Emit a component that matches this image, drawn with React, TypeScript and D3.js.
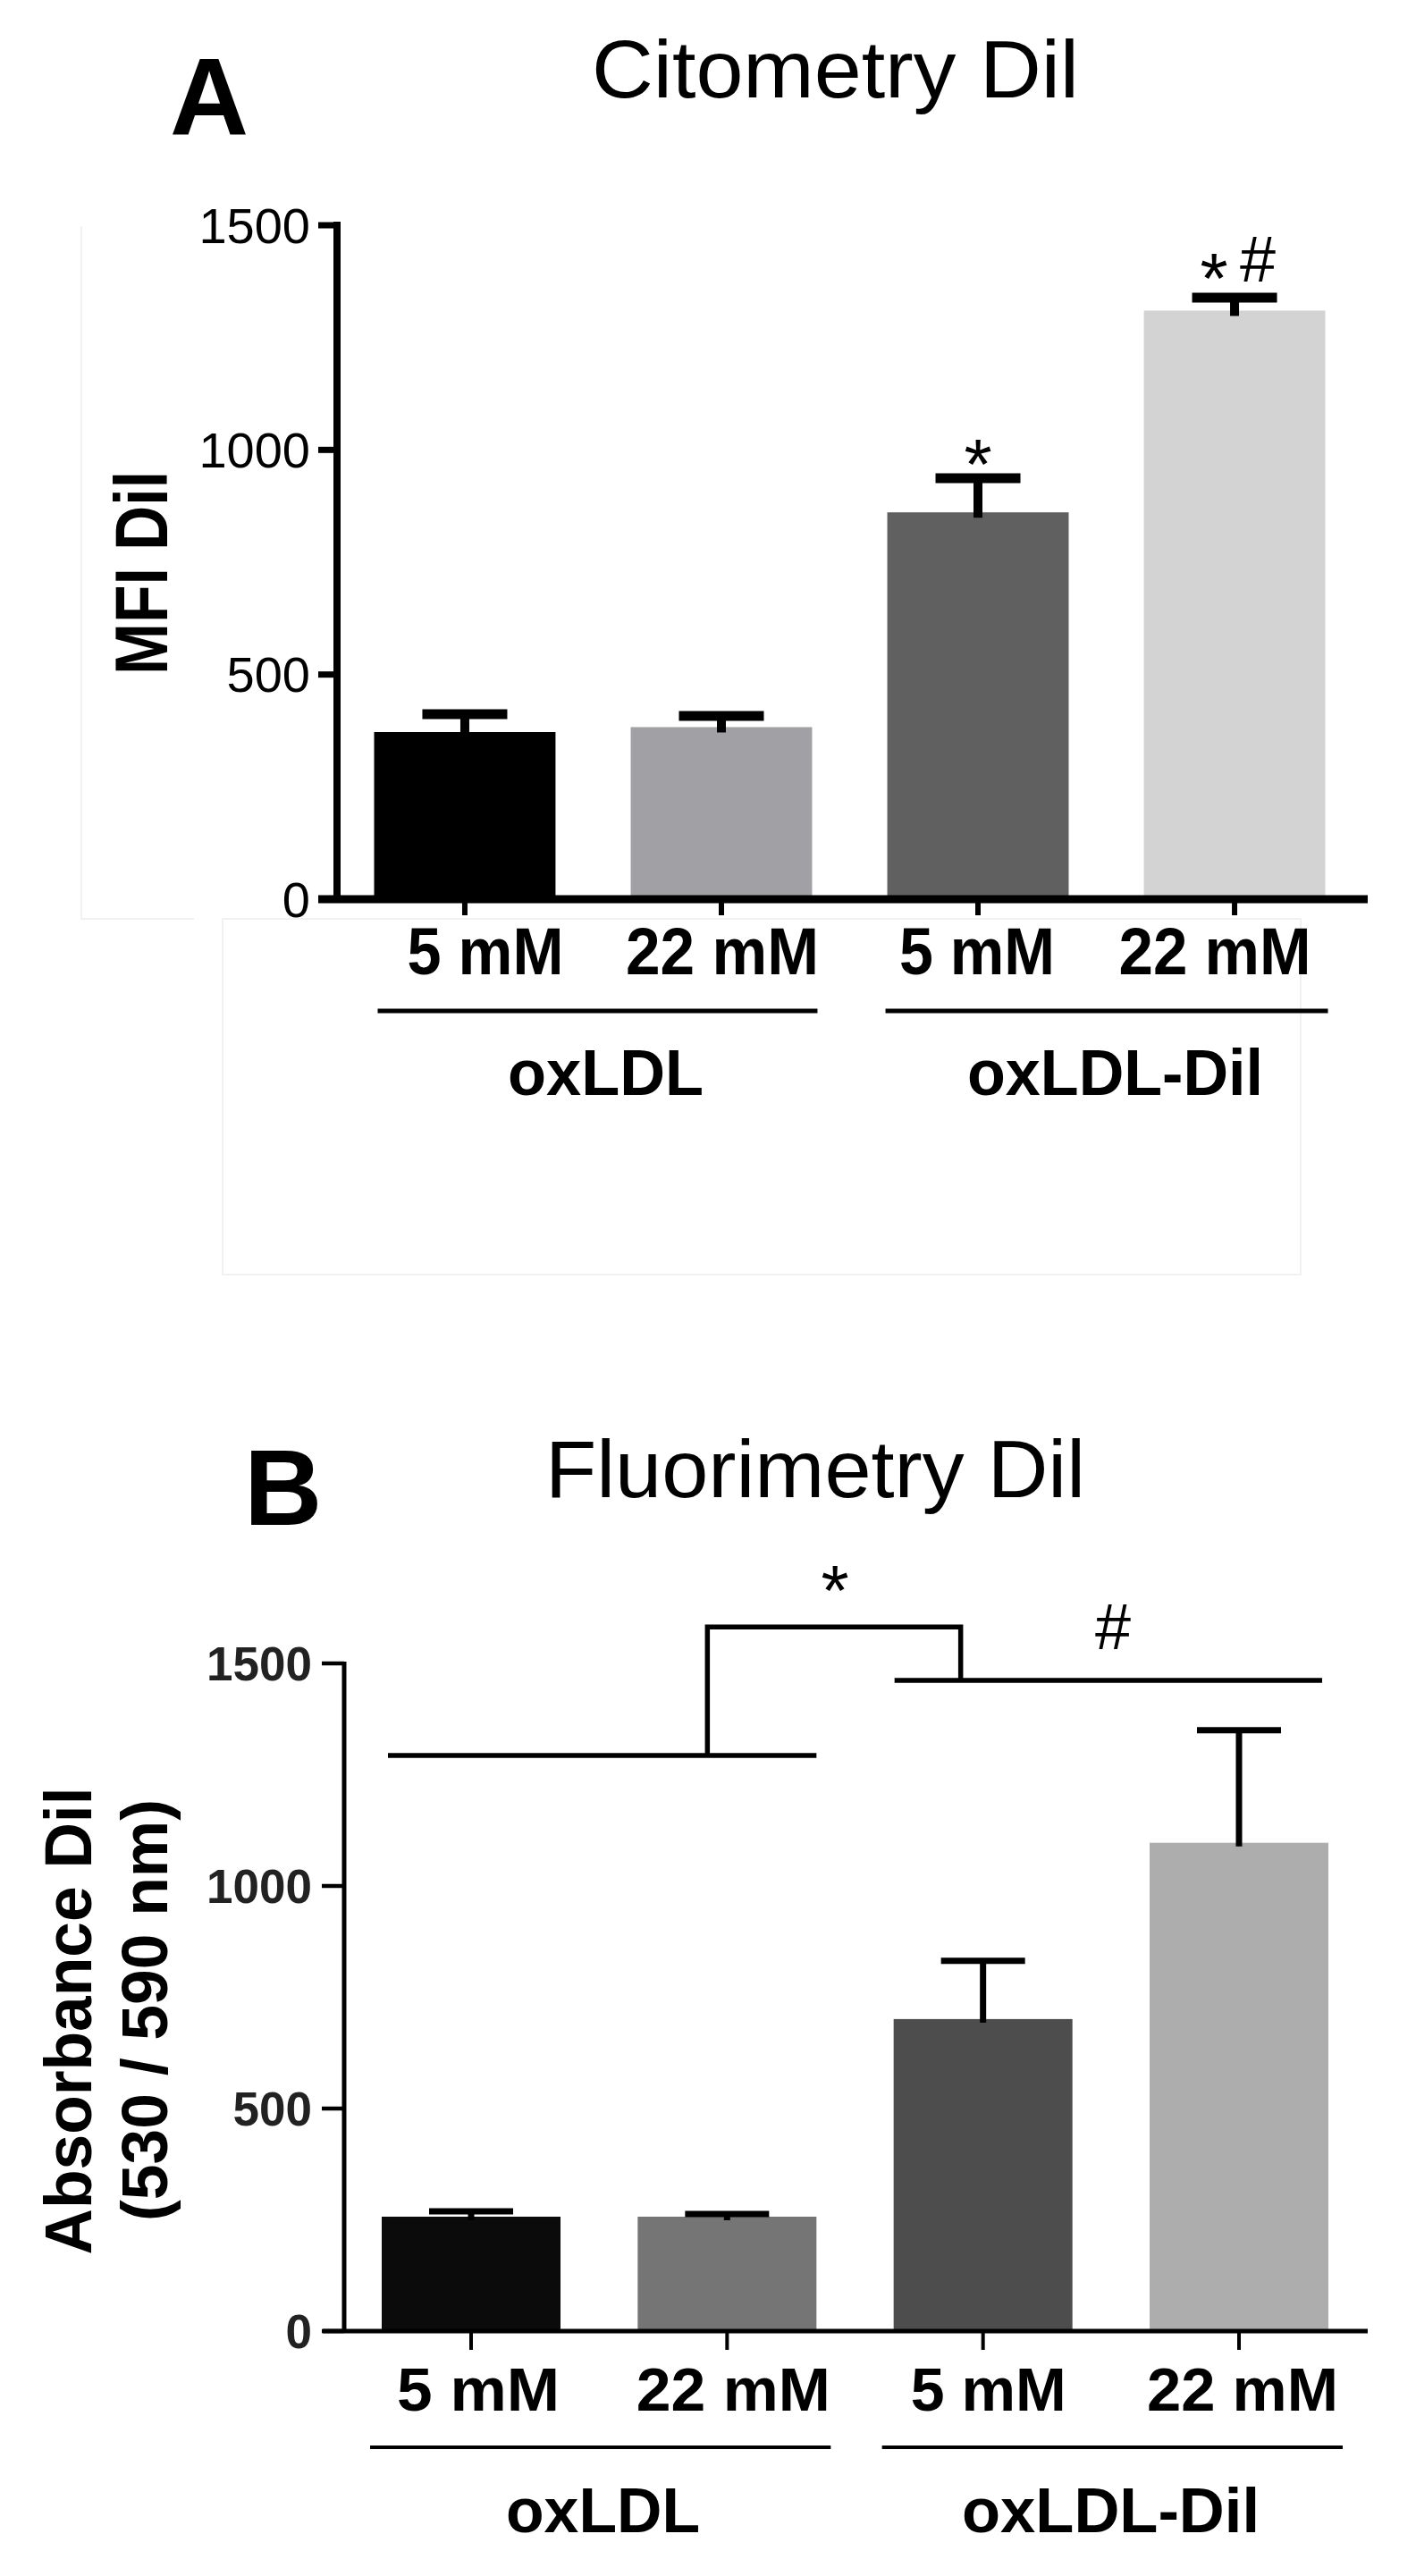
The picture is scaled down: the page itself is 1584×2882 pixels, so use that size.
import React from "react";
import * as d3 from "d3";

// ---------- data ----------
const categories = ["5 mM", "22 mM", "5 mM", "22 mM"];
const groups = ["oxLDL", "oxLDL-Dil"];
const yTicks = [0, 500, 1000, 1500];

const citometryMean = [372, 383, 861, 1310];
const citometryErr = [40, 25, 76, 29];
const citometryMarks = ["", "", "*", "*#"];
const citometryColors = ["#000000", "#a1a0a5", "#606060", "#d3d3d3"];

const fluorMean = [257, 257, 701, 1097];
const fluorErr = [12, 6, 131, 253];
const fluorColors = ["#0b0b0b", "#757575", "#4d4d4d", "#adadad"];
// significance annotation levels (data units) for panel B
const fluorGroupLineLevels = [1293, 1462];
const fluorBracketTop = 1582;

const FONT = "'Liberation Sans', Arial, Helvetica, sans-serif";

export default function App() {
  const idx = d3.range(categories.length);

  // ---------- panel A scales ----------
  const yA = d3.scaleLinear().domain([0, 1500]).range([1006, 252]);
  const xA = d3
    .scaleBand<number>()
    .domain(idx)
    .range([418.5, 1482.5])
    .paddingInner(0.293)
    .paddingOuter(0);
  const bwA = xA.bandwidth();
  const cA = (i: number) => (xA(i) as number) + bwA / 2;

  // ---------- panel B scales ----------
  const yB = d3.scaleLinear().domain([0, 1500]).range([2608, 1861]);
  const xB = d3
    .scaleBand<number>()
    .domain(idx)
    .range([427, 1486])
    .paddingInner(0.3015)
    .paddingOuter(0);
  const bwB = xB.bandwidth();
  const cB = (i: number) => (xB(i) as number) + bwB / 2;

  const labelDxA = [23, 1, -1, -22];
  const labelLenA = [175, 216, 174, 215];
  const labelDxB = [8, 7, 6, 4];
  const labelLenB = [182, 217, 174, 214];

  return (
    <svg
      width={1584}
      height={2882}
      style={{ position: "absolute", left: 0, top: 0, background: "#fff" }}
      fontFamily={FONT}
    >
      <rect x={0} y={0} width={1584} height={2882} fill="#ffffff" />

      {/* faint frame artifacts */}
      <g stroke="#f1f1f1" strokeWidth={2} fill="none">
        <polyline points="91,253 91,1028 217,1028" />
        <rect x={249} y={1028} width={1206} height={398} />
      </g>

      {/* ================= PANEL A ================= */}
      <text x={190} y={151} fontSize={122} fontWeight="bold" fill="#000">
        A
      </text>
      <text
        x={662}
        y={109}
        fontSize={90}
        fill="#000"
        textLength={545}
        lengthAdjust="spacingAndGlyphs"
      >
        Citometry Dil
      </text>

      {/* y label */}
      <text
        transform={`translate(187, 641) rotate(-90)`}
        textAnchor="middle"
        fontSize={84}
        fontWeight="bold"
        textLength={228}
        lengthAdjust="spacingAndGlyphs"
      >
        MFI Dil
      </text>

      {/* bars */}
      {idx.map((i) => (
        <rect
          key={"a" + i}
          x={xA(i)}
          y={yA(citometryMean[i])}
          width={bwA}
          height={yA(0) - yA(citometryMean[i])}
          fill={citometryColors[i]}
        />
      ))}

      {/* error bars */}
      {idx.map((i) => {
        const top = yA(citometryMean[i] + citometryErr[i]);
        return (
          <g key={"ea" + i} stroke="#000">
            <line
              x1={cA(i)}
              x2={cA(i)}
              y1={yA(citometryMean[i]) + 6}
              y2={top}
              strokeWidth={10}
            />
            <line
              x1={cA(i) - 47.5}
              x2={cA(i) + 47.5}
              y1={top}
              y2={top}
              strokeWidth={11}
            />
          </g>
        );
      })}

      {/* significance marks */}
      {idx.map((i) => {
        const top = yA(citometryMean[i] + citometryErr[i]);
        const m = citometryMarks[i];
        if (m === "*")
          return (
            <text key={"m" + i} x={cA(i)} y={top + 12} textAnchor="middle" fontSize={80}>
              *
            </text>
          );
        if (m === "*#")
          return (
            <g key={"m" + i}>
              <text x={cA(i) - 23} y={top + 6} textAnchor="middle" fontSize={80}>
                *
              </text>
              <text x={cA(i) + 26} y={top - 18} textAnchor="middle" fontSize={72}>
                #
              </text>
            </g>
          );
        return null;
      })}

      {/* axes */}
      <g stroke="#000">
        <line x1={377} x2={377} y1={248} y2={1006} strokeWidth={8} />
        <line x1={356} x2={1530} y1={yA(0)} y2={yA(0)} strokeWidth={9} />
        {yTicks.map((t) => (
          <line key={"ta" + t} x1={356} x2={377} y1={yA(t)} y2={yA(t)} strokeWidth={7} />
        ))}
        {idx.map((i) => (
          <line key={"xa" + i} x1={cA(i)} x2={cA(i)} y1={yA(0)} y2={1024} strokeWidth={6} />
        ))}
      </g>
      {yTicks.map((t) => (
        <text
          key={"la" + t}
          x={347}
          y={yA(t)}
          dy="0.35em"
          textAnchor="end"
          fontSize={56}
          fill="#000"
        >
          {t}
        </text>
      ))}

      {/* x labels */}
      {idx.map((i) => (
        <text
          key={"xl" + i}
          x={cA(i) + labelDxA[i]}
          y={1090}
          textAnchor="middle"
          fontSize={74}
          fontWeight="bold"
          textLength={labelLenA[i]}
          lengthAdjust="spacingAndGlyphs"
        >
          {categories[i]}
        </text>
      ))}

      {/* group lines and labels */}
      <g stroke="#000" strokeWidth={5}>
        <line x1={(xA(0) as number) + 4} x2={(xA(1) as number) + bwA + 6} y1={1131} y2={1131} />
        <line x1={(xA(2) as number) - 2} x2={(xA(3) as number) + bwA + 3} y1={1131} y2={1131} />
      </g>
      <text x={677.5} y={1225} textAnchor="middle" fontSize={72} fontWeight="bold" textLength={219} lengthAdjust="spacingAndGlyphs">
        {groups[0]}
      </text>
      <text x={1247.5} y={1225} textAnchor="middle" fontSize={72} fontWeight="bold" textLength={331} lengthAdjust="spacingAndGlyphs">
        {groups[1]}
      </text>

      {/* ================= PANEL B ================= */}
      <text x={273} y={1706} fontSize={121} fontWeight="bold" fill="#000">
        B
      </text>
      <text
        x={610}
        y={1675}
        fontSize={90}
        fill="#000"
        textLength={604}
        lengthAdjust="spacingAndGlyphs"
      >
        Fluorimetry Dil
      </text>

      <text
        transform={`translate(102, 2261) rotate(-90)`}
        textAnchor="middle"
        fontSize={74}
        fontWeight="bold"
        textLength={523}
        lengthAdjust="spacingAndGlyphs"
      >
        Absorbance Dil
      </text>
      <text
        transform={`translate(187, 2249) rotate(-90)`}
        textAnchor="middle"
        fontSize={72}
        fontWeight="bold"
        textLength={472}
        lengthAdjust="spacingAndGlyphs"
      >
        (530 / 590 nm)
      </text>

      {/* bars */}
      {idx.map((i) => (
        <rect
          key={"b" + i}
          x={xB(i)}
          y={yB(fluorMean[i])}
          width={bwB}
          height={yB(0) - yB(fluorMean[i])}
          fill={fluorColors[i]}
        />
      ))}

      {/* error bars */}
      {idx.map((i) => {
        const top = yB(fluorMean[i] + fluorErr[i]);
        return (
          <g key={"eb" + i} stroke="#000">
            <line x1={cB(i)} x2={cB(i)} y1={yB(fluorMean[i]) + 4} y2={top} strokeWidth={7} />
            <line x1={cB(i) - 47} x2={cB(i) + 47} y1={top} y2={top} strokeWidth={7} />
          </g>
        );
      })}

      {/* significance lines */}
      <g stroke="#000" strokeWidth={5.5} fill="none">
        <line
          x1={(xB(0) as number) + 7}
          x2={(xB(1) as number) + bwB}
          y1={yB(fluorGroupLineLevels[0])}
          y2={yB(fluorGroupLineLevels[0])}
        />
        <line
          x1={(xB(2) as number) + 1}
          x2={(xB(3) as number) + bwB - 7}
          y1={yB(fluorGroupLineLevels[1])}
          y2={yB(fluorGroupLineLevels[1])}
        />
        <path
          d={`M${cB(1) - 22},${yB(fluorGroupLineLevels[0])} V${yB(fluorBracketTop)} H${cB(2) - 25} V${yB(
            fluorGroupLineLevels[1]
          )}`}
        />
      </g>
      <text x={934} y={1807} textAnchor="middle" fontSize={80}>
        *
      </text>
      <text x={1245} y={1845} textAnchor="middle" fontSize={72}>
        #
      </text>

      {/* axes */}
      <g stroke="#000">
        <line x1={385} x2={385} y1={1859} y2={yB(0)} strokeWidth={5} />
        <line x1={361} x2={1530} y1={yB(0)} y2={yB(0)} strokeWidth={5} />
        {yTicks.map((t) => (
          <line key={"tb" + t} x1={360} x2={385} y1={yB(t)} y2={yB(t)} strokeWidth={4.5} />
        ))}
        {idx.map((i) => (
          <line key={"xb" + i} x1={cB(i)} x2={cB(i)} y1={yB(0)} y2={2629} strokeWidth={4} />
        ))}
      </g>
      {yTicks.map((t) => (
        <text
          key={"lb" + t}
          x={349}
          y={yB(t)}
          dy="0.35em"
          textAnchor="end"
          fontSize={53}
          fontWeight="bold"
          fill="#222"
        >
          {t}
        </text>
      ))}

      {idx.map((i) => (
        <text
          key={"xlb" + i}
          x={cB(i) + labelDxB[i]}
          y={2697}
          textAnchor="middle"
          fontSize={68}
          fontWeight="bold"
          textLength={labelLenB[i]}
          lengthAdjust="spacingAndGlyphs"
        >
          {categories[i]}
        </text>
      ))}

      <g stroke="#000" strokeWidth={4}>
        <line x1={(xB(0) as number) - 13} x2={(xB(1) as number) + bwB + 16} y1={2738} y2={2738} />
        <line x1={(xB(2) as number) - 13} x2={(xB(3) as number) + bwB + 16} y1={2738} y2={2738} />
      </g>
      <text x={674.5} y={2833} textAnchor="middle" fontSize={71} fontWeight="bold" textLength={217} lengthAdjust="spacingAndGlyphs">
        {groups[0]}
      </text>
      <text x={1242.5} y={2833} textAnchor="middle" fontSize={71} fontWeight="bold" textLength={333} lengthAdjust="spacingAndGlyphs">
        {groups[1]}
      </text>
    </svg>
  );
}
